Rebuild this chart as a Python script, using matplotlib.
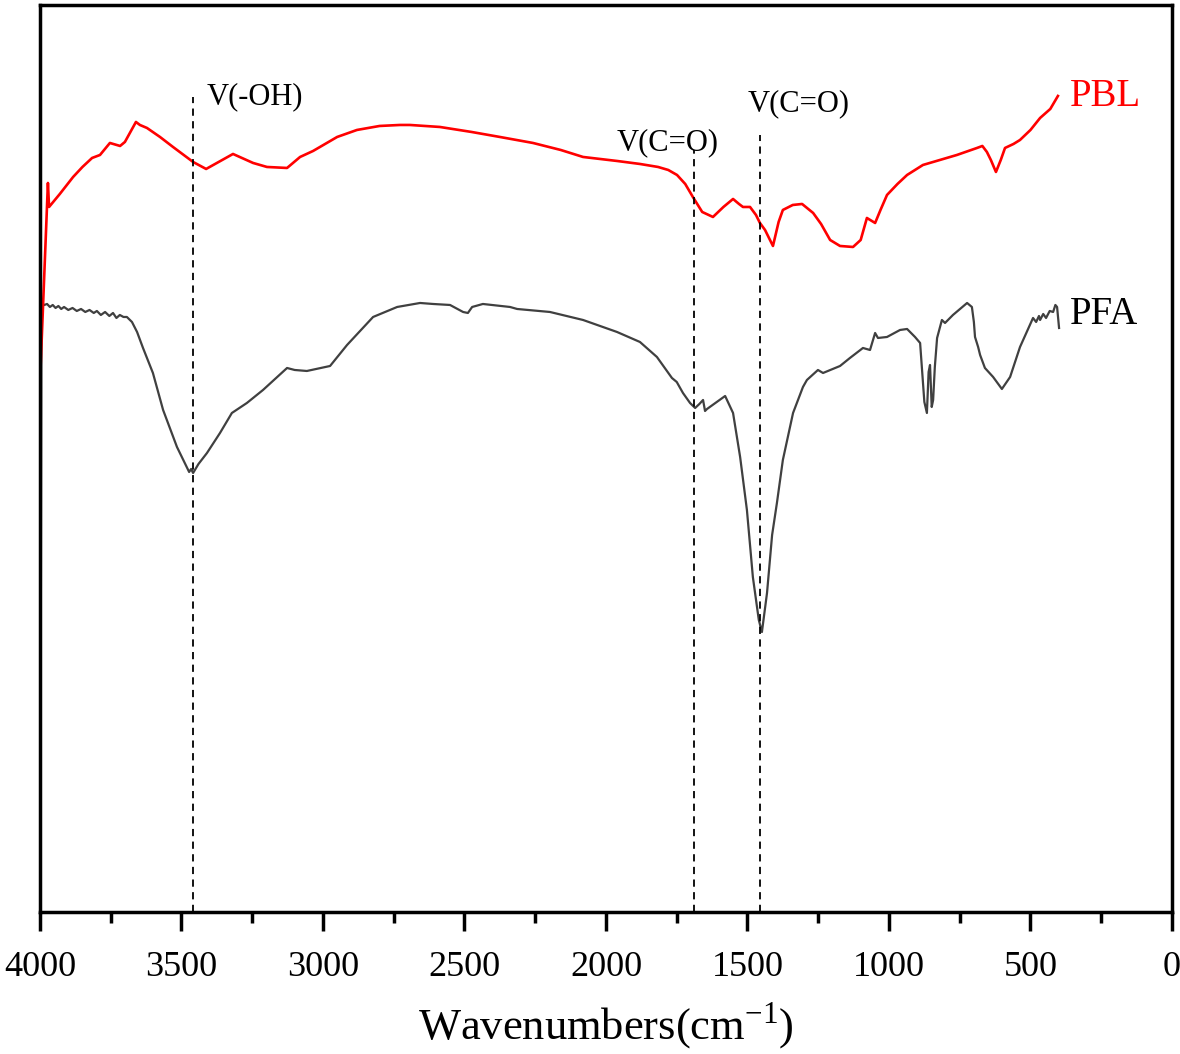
#!/usr/bin/env python3
import numpy as np
import matplotlib
matplotlib.use("Agg")
from matplotlib import pyplot as plt

plt.rcParams['font.family'] = ['Liberation Serif', 'DejaVu Serif']
plt.rcParams['mathtext.fontset'] = 'custom'
plt.rcParams['mathtext.rm'] = 'Liberation Serif'

# PBL spectrum (wavenumber, a.u.)
pbl_wn = [3998, 3972, 3968, 3930, 3883, 3850, 3816, 3788, 3753, 3717, 3700, 3661, 3647,
          3622, 3576, 3530, 3459, 3413, 3375, 3318, 3247, 3198, 3127, 3081, 3035, 2950,
          2880, 2800, 2728, 2693, 2587, 2475, 2375, 2258, 2160, 2081, 1961, 1880, 1816,
          1780, 1749, 1720, 1693, 1660, 1622, 1585, 1551, 1530, 1516, 1491, 1470, 1456,
          1438, 1410, 1390, 1375, 1340, 1307, 1268, 1240, 1208, 1173, 1127, 1100, 1078,
          1049, 1030, 1007, 970, 936, 880, 820, 760, 689, 670, 654, 640, 622, 605, 590,
          560, 537, 500, 466, 430, 403]
pbl_val = [544, 729, 705, 718, 735, 745, 754, 757, 769, 766, 770, 790, 787,
           784, 775, 765, 750, 743, 749, 758, 749, 745, 744, 755, 761, 775,
           782, 786, 787, 787, 785, 780, 775, 769, 762, 755, 751, 748, 745,
           742, 737, 728, 715, 700, 695, 705, 713, 708, 705, 705, 697, 689,
           682, 666, 690, 702, 707, 708, 699, 688, 672, 666, 665, 672, 694,
           689, 702, 717, 728, 737, 747, 752, 757, 764, 766, 760, 752, 740, 752, 764,
           768, 772, 782, 794, 803, 816]

# PFA spectrum
pfa_wn = [3999, 3995, 3985, 3975, 3965, 3955, 3945, 3935, 3925, 3915, 3900, 3885, 3870,
          3855, 3840, 3825, 3810, 3799, 3785, 3770, 3755, 3742, 3730, 3718, 3705, 3693,
          3675, 3657, 3636, 3601, 3565, 3516, 3473,
          3466, 3459, 3440, 3410, 3364, 3322, 3269, 3212, 3127, 3100, 3057, 2975, 2915,
          2823, 2738, 2657, 2611, 2551, 2505, 2488, 2473, 2435, 2339, 2314, 2198, 2081,
          1961, 1880, 1820, 1767, 1750, 1728, 1703, 1685, 1670, 1657, 1650, 1643, 1579,
          1551, 1526, 1502, 1481, 1460, 1449, 1431, 1413, 1396, 1375, 1339, 1304, 1290,
          1251, 1233, 1173, 1138, 1092, 1067, 1049, 1039, 1007, 961, 936, 908, 890, 880,
          875, 866, 860, 855, 849, 844, 838, 830, 813, 802, 774, 724, 707, 700, 696, 685,
          678, 661, 632, 601, 572, 537, 491, 480, 470, 466, 455, 445, 432, 420, 412, 406,
          399]
pfa_val = [-10, 609, 607, 608, 605, 607, 604, 606, 603, 605, 602, 604, 601,
           603, 600, 602, 599, 601, 597, 600, 596, 599, 594, 597, 595, 595,
           590, 580, 564, 539, 502, 465, 440,
           443, 439, 448, 459, 479, 499, 509, 522, 544, 542, 541, 546, 567,
           595, 605, 609, 608, 607, 600, 599, 605, 608, 605, 603, 600, 592,
           580, 570, 555, 534, 530, 519, 509, 504, 508, 512, 501, 503, 516,
           499, 455, 402, 335, 292, 280, 319, 377, 409, 452, 499, 525, 532,
           542, 539, 546, 554, 564, 562, 579, 574, 575, 582, 583, 575, 569, 529,
           510, 499, 540, 547, 505, 512, 545, 574, 592, 589, 597, 609, 605, 590, 575, 565,
           557, 544, 535, 523, 535, 565, 594, 590, 596, 592, 598, 594, 601, 600, 607, 605,
           584]

# band markers: position, top of the dashed line, label and its anchor
band_wn = [3459, 1689, 1456]
band_top = [815, 762, 777]
band_lbl = ['V(-OH)', 'V(C=O)', 'V(C=O)']
lbl_x = [3410, 1961, 1498]
lbl_y = [815, 769, 808]

fig = plt.figure(figsize=(11.8, 10.54), dpi=100)
ax = fig.add_axes([0.0339, 0.1347, 0.9593, 0.8606])

ax.plot(pfa_wn, pfa_val, color='#404040', lw=1.6)
ax.plot(pbl_wn, pbl_val, color='red', lw=1.9)

for w, top in zip(band_wn, band_top):
    ax.plot([w, w], [0, top], color='black', lw=1.3, ls=(0, (4, 3)))
for t, x, y in zip(band_lbl, lbl_x, lbl_y):
    ax.text(x, y, t, fontsize=22, va='center', ha='left')

ax.text(360, 815, 'PBL', color='red', fontsize=28, va='center', ha='left')
ax.text(360, 597, 'PFA', color='black', fontsize=28, va='center', ha='left')

ax.set_xlim(4000, 0)
ax.set_ylim(0, 907)
ax.set_xticks(np.arange(0, 4001, 500))
ax.set_xticks(np.arange(250, 4000, 500), minor=True)
ax.set_yticks([])
ax.tick_params(axis='x', which='major', length=14, width=2.5, labelsize=26, pad=14)
ax.tick_params(axis='x', which='minor', length=8, width=2.5)
for s in ax.spines.values():
    s.set_linewidth(2.5)
ax.set_xlabel('Wavenumbers(cm$^{-1}$)', fontsize=32, labelpad=12)

fig.savefig('out.png', dpi=100)
